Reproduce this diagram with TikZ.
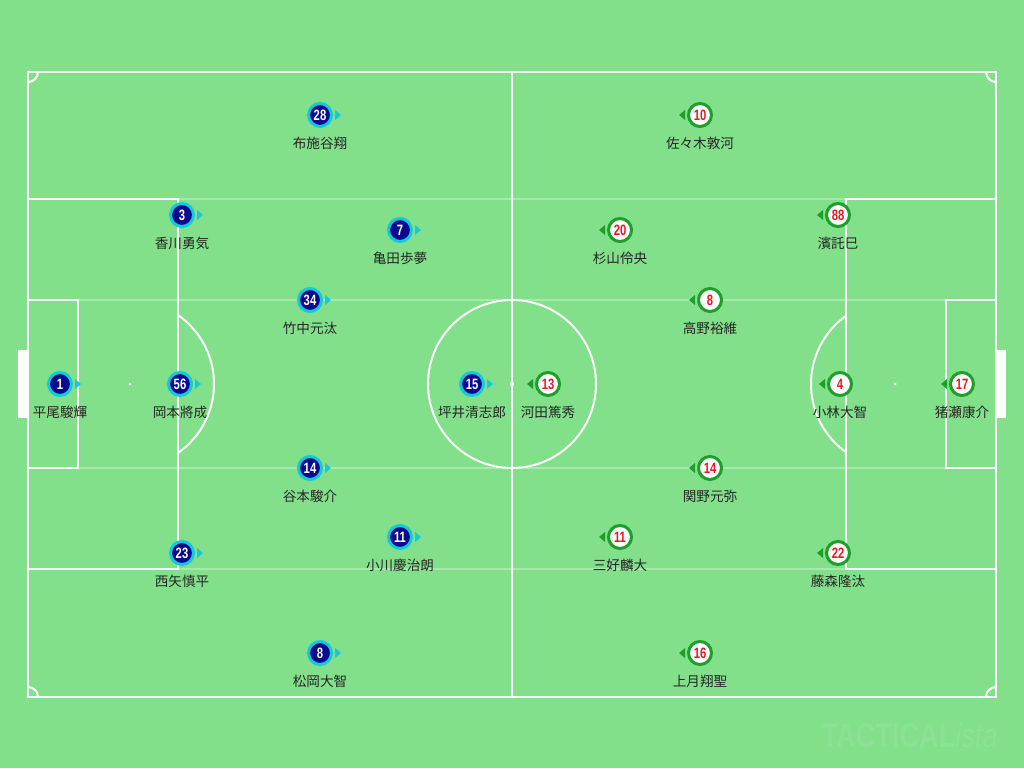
\documentclass[tikz,border=0pt]{standalone}
\usepackage{fontspec}
\usepackage{tikz}
\usetikzlibrary{positioning}
\setmainfont{Noto Sans CJK JP}
\newfontfamily\numfont[FakeStretch=0.75]{Liberation Sans}
\newfontfamily\markfont[FakeStretch=0.8]{Liberation Sans}
\definecolor{pitch}{HTML}{82DF8A}
\definecolor{navy}{HTML}{0A0A8E}
\definecolor{aqua}{HTML}{14CADA}
\definecolor{grass}{HTML}{1E9E2A}
\definecolor{redno}{HTML}{EC1622}
\definecolor{ink}{HTML}{262626}
\definecolor{mark}{HTML}{8CE294}

\begin{document}
\begin{tikzpicture}[x=1pt, y=-1pt,
            line/.style={white, line width=2pt},
            faint/.style={white, opacity=0.3, line width=1.5pt},
            home/.style={circle, draw=aqua, fill=navy, line width=3pt, inner sep=0, minimum size=23pt,
              text=white, font=\numfont\bfseries\fontsize{15}{15}\selectfont},
            away/.style={circle, draw=grass, fill=white, line width=3pt, inner sep=0, minimum size=23pt,
              text=redno, font=\numfont\bfseries\fontsize{15}{15}\selectfont},
            plname/.style={inner sep=1pt, text=ink, font=\fontsize{13.6}{14}\selectfont},
            node distance=7.5pt]
        % pitch
        \fill[pitch] (0,0) rectangle (1024,768);
        \useasboundingbox (0,0) rectangle (1024,768);
        \foreach \yy in {199,300,468,569}
            \draw[faint] (28,\yy) -- (996,\yy);
        \draw[line] (28,72) rectangle (996,697);
        \draw[line] (512,72) -- (512,697);
        \draw[line] (512,384) circle (84);
        \fill[white] (512,384) circle (2);
        \draw[line] (28,199) rectangle (178,569);
        \draw[line] (28,300) rectangle (78,468);
        \draw[line] (996,199) rectangle (846,569);
        \draw[line] (996,300) rectangle (946,468);
        \fill[white] (130,384) circle (1.5);
        \fill[white] (895,384) circle (1.5);
        \begin{scope}
            \clip (178,0) rectangle (1024,768);
            \draw[line] (130,384) circle (84);
        \end{scope}
        \begin{scope}
            \clip (0,0) rectangle (846,768);
            \draw[line] (895,384) circle (84);
        \end{scope}
        \fill[white] (18,350) rectangle (28,418);
        \fill[white] (996,350) rectangle (1006,418);
        \draw[line] (28,82) arc (90:0:10);
        \draw[line] (986,72) arc (180:90:10);
        \draw[line] (38,697) arc (0:-90:10);
        \draw[line] (996,687) arc (270:180:10);

        % home side
        \foreach \id/\pos/\num/\who in {
            a/{60,384}/1/平尾駿輝, b/{180,384}/56/岡本將成, c/{320,115}/28/布施谷翔,
            d/{182,215}/3/香川勇気, e/{400,230}/7/亀田歩夢, f/{310,300}/34/竹中元汰,
            g/{472,384}/15/坪井清志郎, h/{310,468}/14/谷本駿介, i/{400,537}/11/小川慶治朗,
            j/{182,553}/23/西矢慎平, k/{320,653}/8/松岡大智} {
            \node[home] (h\id) at (\pos) {\num};
            \node[plname, below=of h\id] (hn\id) {\who};
            \fill[aqua] ([xshift=2pt]h\id.east) -- ++(0,-5) -- ++(6,5) -- ++(-6,5) -- cycle;
        }

        % away side
        \foreach \id/\pos/\num/\who in {
            a/{700,115}/10/佐々木敦河, b/{838,215}/88/濱託巳, c/{620,230}/20/杉山伶央,
            d/{710,300}/8/高野裕維, e/{548,384}/13/河田篤秀, f/{840,384}/4/小林大智,
            g/{962,384}/17/猪瀬康介, h/{710,468}/14/関野元弥, i/{620,537}/11/三好麟大,
            j/{838,553}/22/藤森隆汰, k/{700,653}/16/上月翔聖} {
            \node[away] (a\id) at (\pos) {\num};
            \node[plname, below=of a\id] (an\id) {\who};
            \fill[grass] ([xshift=-2pt]a\id.west) -- ++(0,-5) -- ++(-6,5) -- ++(6,5) -- cycle;
        }

        \node[text=mark, anchor=south east, inner sep=0, font=\markfont\bfseries\fontsize{34}{34}\selectfont] (logo)
            at (998,748) {TACTICAL\textit{\mdseries ista}};
    \end{tikzpicture}
\end{document}
